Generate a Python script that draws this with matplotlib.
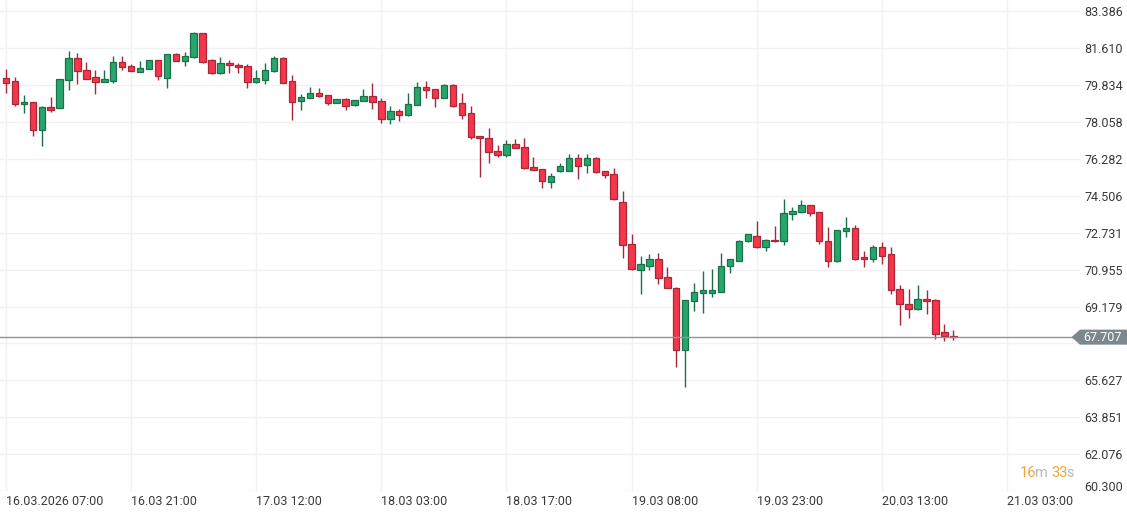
import matplotlib
matplotlib.use("Agg")
import matplotlib.pyplot as plt
from matplotlib.patches import Polygon

plt.rcParams['font.family'] = ['Roboto', 'DejaVu Sans']

# hourly OHLC
opens = [80.15, 80.01, 78.90, 79.01, 77.65, 78.76, 78.74, 80.06, 81.11, 80.54,
         80.20, 79.99, 80.02, 80.92, 80.72, 80.44, 80.59, 81.02, 80.18, 81.31,
         80.97, 81.16, 82.32, 81.02, 80.39, 80.87, 80.77, 80.72, 79.99, 80.08,
         80.48, 81.11, 80.01, 79.05, 79.20, 79.43, 79.34, 78.95, 79.14, 78.85,
         79.05, 79.29, 79.06, 78.18, 78.56, 78.37, 78.87, 79.72, 79.62, 79.19,
         79.81, 78.95, 78.47, 77.39, 77.30, 76.64, 76.45, 76.98, 76.83, 75.87,
         75.77, 75.15, 75.68, 75.68, 76.30, 75.96, 76.30, 75.68, 75.53, 74.19,
         72.17, 70.92, 71.15, 71.44, 70.62, 70.09, 67.11, 69.42, 69.85, 69.85,
         69.90, 71.11, 71.39, 72.31, 72.55, 72.02, 72.40, 72.31, 73.61, 73.70,
         74.04, 73.70, 72.35, 71.35, 72.79, 72.93, 71.54, 71.44, 72.02, 71.68,
         70.04, 69.32, 69.04, 69.56, 69.47, 67.93, 67.78]
highs = [80.59, 80.21, 79.35, 79.03, 78.82, 79.25, 80.12, 81.47, 81.36, 80.92,
         80.54, 80.54, 81.23, 81.23, 80.86, 80.99, 81.03, 81.03, 81.32, 81.36,
         81.40, 82.38, 82.33, 81.07, 81.18, 81.02, 80.87, 80.82, 80.54, 80.87,
         81.21, 81.16, 80.30, 79.38, 79.72, 79.67, 79.35, 79.15, 79.19, 79.10,
         79.62, 79.91, 79.22, 78.82, 78.66, 79.43, 79.97, 80.01, 79.63, 79.86,
         79.86, 79.43, 78.81, 77.40, 77.75, 76.93, 77.17, 77.22, 77.27, 76.35,
         75.78, 75.59, 76.06, 76.49, 76.49, 76.49, 76.35, 75.69, 75.82, 74.72,
         72.66, 71.59, 71.68, 71.73, 71.10, 70.10, 69.48, 70.29, 70.91, 70.96,
         71.74, 71.45, 72.40, 72.66, 73.27, 72.41, 73.03, 74.33, 73.94, 74.28,
         74.05, 73.71, 72.98, 72.85, 73.46, 73.08, 71.87, 72.16, 72.26, 72.02,
         70.19, 70.04, 70.19, 69.95, 69.52, 68.32, 68.03]
lows = [79.46, 78.81, 78.50, 77.38, 76.90, 78.55, 78.72, 79.59, 79.86, 80.10,
        79.38, 79.98, 79.94, 80.56, 80.50, 80.43, 80.58, 80.08, 79.70, 80.96,
        80.76, 81.15, 80.91, 80.38, 80.38, 80.39, 80.39, 79.70, 79.94, 79.86,
        80.43, 79.93, 78.13, 78.61, 79.19, 79.24, 78.85, 78.94, 78.61, 78.84,
        79.04, 78.66, 78.02, 77.97, 78.10, 78.36, 78.86, 79.19, 78.79, 79.18,
        78.79, 78.21, 77.25, 75.40, 76.06, 76.35, 76.35, 76.78, 75.81, 75.72,
        74.86, 74.86, 75.63, 75.67, 75.32, 75.62, 75.62, 75.34, 74.32, 71.52,
        70.92, 69.79, 70.92, 70.26, 70.08, 66.29, 65.33, 68.94, 68.89, 69.66,
        69.89, 70.77, 71.38, 72.30, 72.01, 71.83, 72.30, 72.12, 73.32, 73.69,
        73.51, 72.17, 71.06, 71.30, 72.50, 71.40, 71.06, 71.30, 71.20, 69.80,
        68.27, 68.61, 69.03, 68.84, 67.64, 67.54, 67.56]
closes = [79.91, 78.90, 79.01, 77.65, 78.77, 78.64, 80.10, 81.11, 80.48, 80.13,
          79.99, 80.10, 80.92, 80.68, 80.51, 80.65, 81.02, 80.25, 81.31, 80.97,
          81.21, 82.32, 80.92, 80.39, 80.87, 80.77, 80.68, 79.99, 80.15, 80.54,
          81.11, 79.94, 79.00, 79.24, 79.43, 79.29, 78.95, 79.14, 78.81, 79.09,
          79.29, 79.00, 78.18, 78.56, 78.37, 78.90, 79.72, 79.57, 79.19, 79.81,
          78.83, 78.37, 77.34, 77.27, 76.59, 76.45, 76.98, 76.79, 75.82, 75.73,
          75.20, 75.44, 75.92, 76.30, 75.92, 76.30, 75.63, 75.49, 74.33, 72.12,
          70.97, 71.20, 71.44, 70.57, 70.09, 67.11, 69.47, 69.90, 69.95, 69.95,
          71.15, 71.44, 72.35, 72.65, 72.02, 72.40, 72.31, 73.66, 73.75, 74.04,
          73.66, 72.31, 71.35, 72.84, 72.93, 71.44, 71.44, 72.02, 71.63, 69.99,
          69.28, 69.04, 69.56, 69.42, 67.88, 67.74, 67.71]

time_ticks = [0, 14, 28, 42, 56, 70, 84, 98, 112]
time_labels = ['16.03.2026 07:00', '16.03 21:00', '17.03 12:00', '18.03 03:00',
               '18.03 17:00', '19.03 08:00', '19.03 23:00', '20.03 13:00',
               '21.03 03:00']
price_ticks = [83.386, 81.610, 79.834, 78.058, 76.282, 74.506, 72.731,
               70.955, 69.179, 67.403, 65.627, 63.851, 62.076, 60.300]
hidden_tick = 67.403   # queda tapado por la etiqueta del precio actual
last_price = 67.707
timer_parts = ['16', 'm', '33', 's']

GREEN, GREEN_EDGE = '#27a66c', '#1c7049'
RED, RED_EDGE = '#f5364b', '#a8283a'
TEXT = '#3a3a3a'
ORANGE, GREY = '#f2a531', '#b0bac6'

W, H = 1127, 513
PX_PER_UNIT = 20.8
AX_W, AX_H = 1080, 491.2
y_top = 83.386 + 11 / PX_PER_UNIT

fig = plt.figure(figsize=(W / 100, H / 100), dpi=100)
fig.patch.set_facecolor('white')
ax = fig.add_axes([0, (H - AX_H) / H, AX_W / W, AX_H / H])

x = list(range(len(opens)))
ax.set_xlim(-6 / 8.937, (AX_W - 6) / 8.937)
ax.set_ylim(60.2999, y_top)

# velas
up = [c >= o for o, c in zip(opens, closes)]
edges = [GREEN_EDGE if u else RED_EDGE for u in up]
fills = [GREEN if u else RED for u in up]
ax.vlines(x, lows, highs, colors=edges, linewidth=1.0, zorder=2)
bottoms = [min(o, c) for o, c in zip(opens, closes)]
heights = [max(abs(c - o), 0.04) for o, c in zip(opens, closes)]
ax.bar(x, heights, bottom=bottoms, width=0.72, color=fills,
       edgecolor=edges, linewidth=0.9, zorder=3)

ax.axhline(last_price, color='#8a969b', linewidth=1.0, zorder=4)

# ejes
for s in ax.spines.values():
    s.set_visible(False)
ax.grid(True, color='#f1f1f1', linewidth=1.0, zorder=0)
ax.set_axisbelow(True)

ax.set_xticks(time_ticks)
ax.set_xticklabels(time_labels)
for lbl in ax.get_xticklabels():
    lbl.set_horizontalalignment('left')
ax.tick_params(axis='x', length=0, pad=2.5, labelsize=9, labelcolor=TEXT)

ax.yaxis.tick_right()
ax.set_yticks(price_ticks)
ax.set_yticklabels(['' if v == hidden_tick else '%.3f' % v for v in price_ticks])
ax.tick_params(axis='y', length=0, pad=3, labelsize=9, labelcolor=TEXT)
ax.get_yticklabels()[-1].set_verticalalignment('baseline')

# etiqueta del precio actual
yp = (y_top - last_price) * PX_PER_UNIT
tip, x0 = 1071.5, 1080
pts = [(tip, yp), (x0, yp - 7.5), (W, yp - 7.5), (W, yp + 7.5), (x0, yp + 7.5)]
tag = Polygon([(px / W, 1 - py / H) for px, py in pts], closed=True,
              transform=fig.transFigure, facecolor='#7b888d', edgecolor='none',
              zorder=5)
fig.add_artist(tag)
fig.text(1083 / W, 1 - yp / H, '%.3f' % last_price, color='white',
         fontsize=9, va='center', ha='left', zorder=6)

# temporizador "16m 33s", pieza a pieza; luego se alinea a la derecha
fig.canvas.draw()
renderer = fig.canvas.get_renderer()
ty = 1 - 477 / H
xpos = 0
pieces = []
for txt in timer_parts:
    col = ORANGE if txt.isdigit() else GREY
    t = fig.text(xpos / W, ty, txt, color=col, fontsize=10.5,
                 ha='left', va='baseline')
    pieces.append((t, xpos))
    xpos = t.get_window_extent(renderer).x1 + (3.0 if txt == 'm' else -0.9)
shift = 1074 - pieces[-1][0].get_window_extent(renderer).x1
for t, px in pieces:
    t.set_x((px + shift) / W)

fig.savefig('out.png', dpi=100)
